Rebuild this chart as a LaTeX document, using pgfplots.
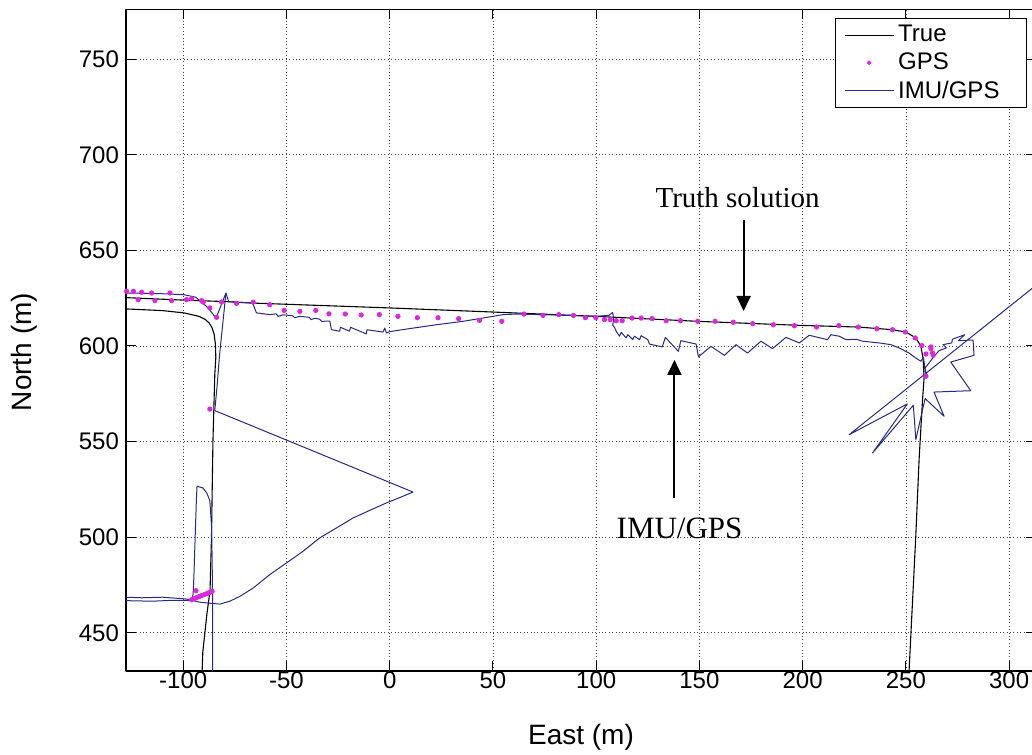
\documentclass[border=0pt]{standalone}
\usepackage{fontspec}
\setmainfont{Liberation Sans}
\newfontfamily\serifann{Liberation Serif}
\usepackage{pgfplots}
\pgfplotsset{compat=1.18}
\usetikzlibrary{arrows.meta}
\definecolor{imu}{RGB}{40,40,140}
\definecolor{gps}{RGB}{220,40,220}
\begin{document}
\begin{tikzpicture}
\begin{axis}[name=ax, scale only axis, width=455pt, height=330.85pt,
 xmin=-127.7, xmax=313, ymin=430, ymax=776.1,
 xtick={-100,-50,...,300}, ytick={450,500,...,750},
 grid=major, grid style={black!75, line width=0.4pt, dash pattern=on 0.5pt off 1.2pt},
 tick align=inside, major tick length=5pt, xtick pos=both, ytick pos=both,
 axis line style={line width=0.6pt}, tick style={black, line width=0.5pt},
 ticklabel style={font=\fontsize{12}{14}\selectfont},
 /pgf/number format/assume math mode=true,
 xticklabel style={yshift=3pt},
 label style={font=\fontsize{14}{16}\selectfont},
 xlabel={East (m)}, ylabel={North (m)},
 xlabel style={at={(axis description cs:0.5,-0.1005)}, anchor=center},
 ylabel style={at={(axis description cs:-0.1121,0.482)}, anchor=center},
 legend style={at={(1,1)}, anchor=north east, xshift=-4.65pt, yshift=-4.5pt,
   font=\fontsize{12}{13}\selectfont, inner xsep=4.35pt, inner ysep=1.3pt,
   draw=black, line width=0.5pt, cells={anchor=west}, row sep=0pt},
 legend image code/.code={\draw[mark repeat=2,mark phase=2,#1] plot coordinates {(0pt,0pt) (12.25pt,0pt) (24.5pt,0pt)};},
 line join=round,
]
\addlegendimage{black, line width=0.5pt}
\addlegendentry{True}
\addlegendimage{only marks, mark=*, mark size=0.9pt, mark options={draw=gps, fill=gps}}
\addlegendentry{GPS}
\addlegendimage{imu, line width=0.5pt}
\addlegendentry{IMU/GPS\hspace*{7pt}}

% True path, piece 1
\addplot[black, line width=0.55pt, forget plot] coordinates {
(-91,425) (-90.5,440) (-88.5,460) (-87,472) (-86.3,500) (-85.6,550) (-84.7,585) (-84.2,594)
(-84.4,601) (-85,606) (-86,609.5) (-87.4,612) (-89.5,614) (-92.3,615.5) (-99.6,617.3)
(-110,618.5) (-128,619.4) (-135,619.7)};
% True path, piece 2
\addplot[black, line width=0.55pt, forget plot] coordinates {
(-135,625.8) (-128,625.3) (-100,624) (-79,623.2) (-67.7,622.5) (0,619.9) (49,617.8) (100,615.5)
(149,612.9) (198,610.8) (227,609.9) (243.5,608.5) (250,607.3) (254.8,604.2) (257.2,600)
(258.3,593.7) (258.8,583.3) (258,571) (256.4,541) (254.8,501) (251.6,431.6) (251.2,425)};

% IMU/GPS loop from bottom
\addplot[imu, line width=0.5pt, forget plot] coordinates {
(-85.8,425) (-85.8,470) (-86,490) (-86.3,506.5) (-87.1,519) (-88.5,523) (-90.5,525.8) (-93.3,526.6)
(-93.6,520) (-94.2,500) (-94.8,480) (-95.2,470) (-96,467.3) (-100,467.8) (-110,468.6) (-120,468.3)
(-128,468.6) (-135,468.5)};
% IMU/GPS lower curve and triangle
\addplot[imu, line width=0.5pt, forget plot] coordinates {
(-135,466.6) (-128,466.8) (-115,466.5) (-105,467) (-96,467) (-92,466) (-88.7,465.6) (-82.2,465)
(-77.4,466.5) (-72.6,469) (-66.1,473.4) (-58.1,480.4) (-50,486.5) (-42,492.6) (-33.9,499.6)
(-25.8,504.8) (-17.8,510) (-9.7,514) (-1.6,517.9) (6.4,521.4) (11.3,523.6) (-84.7,566.2)
(-83.5,580) (-82.5,594) (-81,610) (-79.3,627.7)};
\addplot[imu, line width=0.5pt, forget plot] coordinates {(-96,467) (-86,472.2)};
% IMU/GPS top run
\addplot[imu, line width=0.5pt, forget plot] coordinates {
(-135,628) (-128,627.7) (-111.6,627.4) (-99.5,626.8) (-93.9,625.5) (-88.2,620.2) (-84.1,614.6)
(-79.3,627.7) (-78,623.2) (-72,622.8) (-66.4,622.5) (-64.5,617.3) (-58.1,616.4) (-55,616.8)
(-54,615.5) (-51.6,616.3) (-47,615.8) (-46,614.8) (-43.5,615.5) (-39,615) (-38,613.8) (-36.3,614.5)
(-33.9,614) (-33,612.9) (-29,613) (-28.2,608.5) (-24.2,607.7) (-23.9,609.8) (-19.4,607.7)
(-19,609.8) (-11.3,606.3) (-11,608.5) (-3.2,607.3) (-2.4,609.4) (-1.6,606.8) (0,607.5)
(9.7,609.1) (22.6,611.1) (35.5,612.9) (45.1,614.6) (54.8,616.4) (61.3,616.7) (80,616.2)
(100,615.5) (106,616) (108,617.5) (108.5,614) (108,611) (109,609.5) (109.7,607.7) (111.3,605.1)
(112.1,607.2) (114.5,604.2) (115.3,605.9) (117.7,603.3) (118.5,605.1) (121,603.3) (121.8,605.4)
(125,603.3) (125.8,601) (132,599.5) (133.5,604.5) (139.8,597.2) (141,602.8) (148.4,601)
(149.5,594.3) (155.6,599.8) (162.1,595.1) (167.7,600.7) (173.3,596.3) (179.8,602.5) (185.4,598.6)
(191.9,604.5) (198.4,601.6) (203.2,605.6) (212,603.3) (213.7,605.9) (217.7,605.1) (221,603.3)
(226,603.5) (229,602.5) (237,601.6) (242.7,600.7) (246.7,599) (251.5,596.3) (254.8,593.7)
(257.2,592) (258.5,594) (259.5,586) (258.8,590) (260,584) (259.3,588.5) (261.2,591.1)
(263.6,594.6) (266.1,597.6) (269.6,599) (268,600.7) (272.2,601.6) (272.5,603.5) (278.5,605.9)
(275.4,602.8) (282.5,603.1) (283,595.1) (271.7,591.6) (281.4,576.6) (263.6,575.9) (268.5,563.2)
(259.3,572.5) (254.8,551) (253.6,569) (233.8,544) (250.7,569.7) (222.5,553.6) (310.4,629.5)
(320,637.8)};

% GPS
\addplot[only marks, mark=*, mark size=1.1pt, mark options={draw=gps, fill=gps}, forget plot] coordinates {
(-127.4,628.6) (-124.1,628.6) (-120.1,628.1) (-115.3,627.7) (-106.4,627.7) (-121.8,624.2)
(-113.7,623.7) (-105.6,623.7) (-98.4,624.2) (-95.9,624.7) (-91.1,623.7) (-90.3,623) (-87.1,619.9)
(-83.8,615) (-81.4,623) (-74.2,622.3) (-66.1,622.9) (-58.1,621.6) (-51.1,618.6) (-43.5,618.1)
(-35.8,618.6) (-29.4,616.8) (-21.5,616.7) (-13.8,616.2) (-5,616.4) (4,615.5) (13.4,614.8)
(23.4,614.8) (33.4,614.3) (43.5,613.4) (54.3,612.9) (65,616.7) (74.2,616) (81.9,616.4) (89,616)
(94.8,614.8) (99.8,614.8) (104,613.8) (106.8,613.8) (109.7,613.2) (112.6,613.2) (117.4,614.6)
(121.8,614.6) (127.1,614.3) (133.9,613.2) (140.8,613.2) (149.2,612.9) (157.6,612.9) (166.4,612.4)
(175.8,611.7) (185.8,611.1) (196,610.6) (206.7,609.9) (217.5,610.6) (227,609.9) (235.9,609)
(243.5,608.5) (249.7,607.3) (254.5,604.2) (257.7,600.2) (259.7,595.8) (262.1,598.6) (262.9,596.3)
(263.2,595.1) (259.7,584.2) (262.1,599.5)
(-87.1,567) (-93.8,472) (-95.9,467.3) (-94.8,467.8) (-93.5,468.4) (-92.3,468.9) (-91,469.5)
(-89.7,470) (-88.5,470.5) (-87.3,471) (-86,471.7)};

% annotations
\node[font=\serifann\fontsize{14.5}{16}\selectfont] at (axis cs:168.5,677.4) {Truth solution};
\draw[line width=1pt, -{Triangle[length=7.5pt,width=7pt]}] (axis cs:171.4,665.9) -- (axis cs:171.4,618.3);
\draw[line width=1pt, -{Triangle[length=7.5pt,width=7pt]}] (axis cs:137.9,520.5) -- (axis cs:137.9,592.7);
\node[font=\serifann\fontsize{15.5}{17}\selectfont] at (axis cs:140.4,504.8) {IMU/GPS};
\end{axis}
\pgfresetboundingbox
\path ([xshift=-63pt,yshift=-41.5pt]ax.south west) rectangle ([xshift=-2pt,yshift=4.65pt]ax.north east);
\end{tikzpicture}
\end{document}
